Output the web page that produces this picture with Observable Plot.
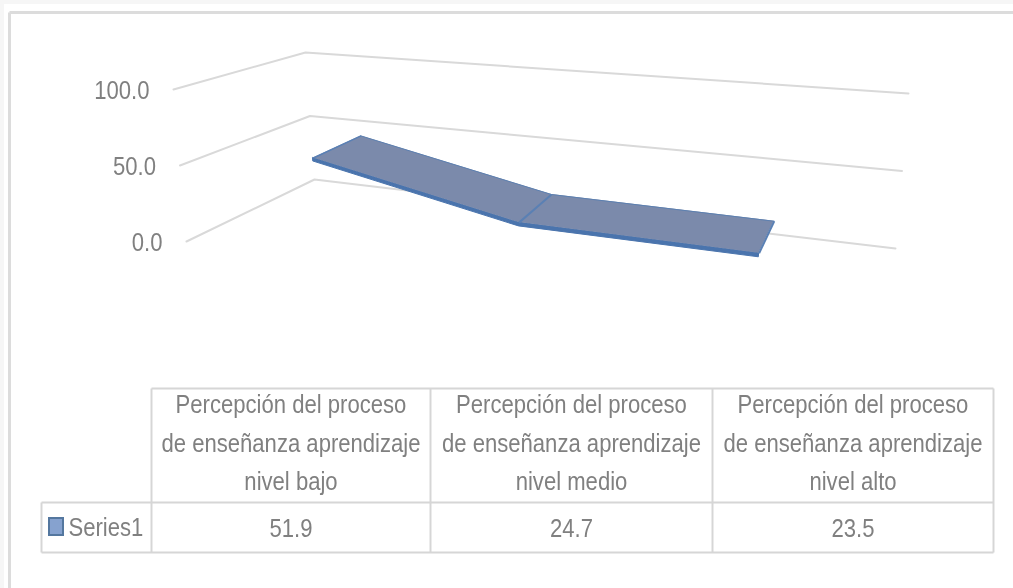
<!DOCTYPE html>
<html>
<head>
<meta charset="utf-8">
<script src="https://cdn.jsdelivr.net/npm/d3@7"></script>
<script src="https://cdn.jsdelivr.net/npm/@observablehq/plot@0.6"></script>
<style>
html,body{margin:0;padding:0;background:#fff}
svg{display:block;filter:blur(0.35px)}
</style>
</head>
<body>
<div id="chart"></div>
<script>
const categories = [
  "Percepción del proceso\nde enseñanza aprendizaje\nnivel bajo",
  "Percepción del proceso\nde enseñanza aprendizaje\nnivel medio",
  "Percepción del proceso\nde enseñanza aprendizaje\nnivel alto"
];
const seriesName = "Series1";
const values = [51.9, 24.7, 23.5];
const valueTicks = [0, 50, 100];

// 3D box of the Excel chart: corners in the picture plane
const floorBack = [[314,179],[895,248]], floorFront = [[186,241],[880,335]];
const topBack = [[305,52],[908,93]], topFront = [[173,89],[900,155]];
const lerp = (a,b,t) => a + (b-a)*t;
const lerp2 = (p,q,t) => [lerp(p[0],q[0],t), lerp(p[1],q[1],t)];
const along = d3.scaleLinear([0,0.5,1.5,2.5,3],[0,0.14,0.445,0.805,1]);
function project(u, v, w) {
  const f = along(u);
  const floor = lerp2(lerp2(floorBack[0],floorBack[1],f), lerp2(floorFront[0],floorFront[1],f), w);
  const top = lerp2(lerp2(topBack[0],topBack[1],f), lerp2(topFront[0],topFront[1],f), w);
  return lerp2(floor, top, v/100);
}
const rear = 0.28, front = 0.70, thick = 2.4;
const ribbon = values.map((v,i) => {
  const b = project(i+.5, v, rear), a = project(i+.5, v, front), s = project(i+.5, v-thick, front);
  return {a, b, s, i};
});
const grid = valueTicks.flatMap(v => [[0,1],[0,0],[3,0]].map(([u,w]) => ({v, p: project(u,v,w)})));
const tickPos = valueTicks.map(v => ({v, p: project(0,v,1)}));

const tableX = [151, 430, 712, 993], tableY = [388, 502, 552], tableLeft = 41;
const colMid = categories.map((c,i) => (tableX[i]+tableX[i+1])/2);
const gray = "#808080", sans = "'Liberation Sans',sans-serif";
const rule = "#d6d6d6";
const tableLines = [
  {x1:tableX[0],y1:tableY[0],x2:tableX[3],y2:tableY[0]},
  {x1:tableLeft,y1:tableY[1],x2:tableX[3],y2:tableY[1]},
  {x1:tableLeft,y1:tableY[2],x2:tableX[3],y2:tableY[2]},
  {x1:tableLeft,y1:tableY[1],x2:tableLeft,y2:tableY[2]},
  ...tableX.map(x => ({x1:x,y1:tableY[0],x2:x,y2:tableY[2]}))
];
const frameLines = [
  {x1:9,y1:12,x2:1013,y2:12},
  {x1:9,y1:12,x2:9,y2:588}
];

const plot = Plot.plot({
  width: 1013, height: 588, margin: 0,
  style: {background: "#fff"},
  x: {domain:[0,1013], range:[0,1013], axis:null},
  y: {domain:[0,588], range:[0,588], axis:null},
  marks: [
    Plot.rect([0], {x1:0, x2:1013, y1:0, y2:4, fill:"#f6f6f6"}),
    Plot.rect([0], {x1:0, x2:4, y1:0, y2:588, fill:"#f6f6f6"}),
    Plot.link(frameLines, {x1:"x1",y1:"y1",x2:"x2",y2:"y2", stroke:"#dcdcdc", strokeWidth:3}),
    Plot.line(grid, {x:d=>d.p[0], y:d=>d.p[1], z:"v", stroke:"#d9d9d9", strokeWidth:2}),
    Plot.text(tickPos, {x:d=>d.p[0]-24, y:d=>d.p[1]+1, text:d=>d.v.toFixed(1), textAnchor:"end", fontSize:26, fontFamily:sans, fill:gray, className:"narrow"}),
    Plot.area(ribbon, {x1:d=>d.a[0], y1:d=>d.a[1], x2:d=>d.s[0], y2:d=>d.s[1], fill:"#4a74ad", stroke:"#4a74ad", strokeWidth:1}),
    Plot.area(ribbon, {x1:d=>d.a[0], y1:d=>d.a[1], x2:d=>d.b[0], y2:d=>d.b[1], fill:"#7b8aab"}),
    Plot.line(ribbon, {x:d=>d.b[0], y:d=>d.b[1], stroke:"#5d80b0", strokeWidth:1}),
    Plot.link(ribbon, {x1:d=>d.a[0], y1:d=>d.a[1], x2:d=>d.b[0], y2:d=>d.b[1], stroke:"#5a80b4", strokeWidth:d=>d.i===0?1.5:2}),
    Plot.link(tableLines, {x1:"x1",y1:"y1",x2:"x2",y2:"y2", stroke:rule, strokeWidth:2}),
    Plot.text(categories, {x:(d,i)=>colMid[i], y:439, text:d=>d, fontSize:26, lineHeight:1.48, fontFamily:sans, fill:gray, className:"narrow"}),
    Plot.text(values, {x:(d,i)=>colMid[i], y:528, text:d=>d.toFixed(1), fontSize:26, fontFamily:sans, fill:gray, className:"narrow"}),
    Plot.rect([seriesName], {x1:49, x2:63, y1:518, y2:535, fill:"#86a2cf", stroke:"#54779f", strokeWidth:2}),
    Plot.text([seriesName], {x:68, y:527, text:d=>d, textAnchor:"start", fontSize:26, fontFamily:sans, fill:gray, className:"narrow"})
  ]
});
// The reference's type is a tall, condensed face: squeeze the text horizontally.
plot.querySelectorAll(".narrow text").forEach(t => {
  t.setAttribute("transform", (t.getAttribute("transform") || "") + " scale(0.85,1)");
});
document.getElementById("chart").append(plot);
</script>
</body>
</html>
